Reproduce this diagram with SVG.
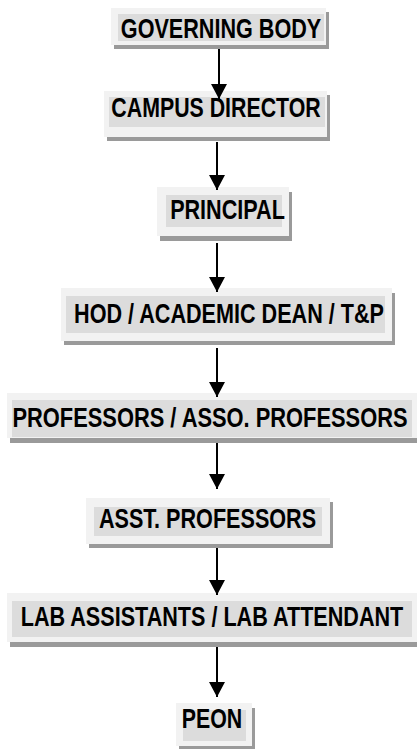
<svg xmlns="http://www.w3.org/2000/svg" width="417" height="749" viewBox="0 0 417 749">
<style>
.sh{fill:#9a9a9a}
.bg{fill:#f2f2f2}
.in{fill:#dcdcdc}
.t{font-family:"Liberation Sans",Arial,sans-serif;font-weight:bold;font-size:27px;fill:#000;text-anchor:middle}
.c{stroke:#000;stroke-width:2;fill:none}
</style>
<defs>
<marker id="ah" markerUnits="userSpaceOnUse" markerWidth="16" markerHeight="17" refX="15" refY="8" orient="auto">
<path d="M0,0 L15,8 L0,16 Z" fill="#000"/>
</marker>
</defs>
<rect width="417" height="749" fill="#fff"/>
<g id="n1">
<rect class="sh" x="114" y="12" width="215" height="37"/>
<rect class="bg" x="111" y="8" width="215" height="37"/>
<rect class="in" x="118" y="14" width="206" height="27"/>
<text class="t" transform="translate(221,38) scale(0.8,1)">GOVERNING BODY</text>
</g>
<g id="n2">
<rect class="sh" x="107" y="95" width="223" height="46"/>
<rect class="bg" x="104" y="91" width="223" height="46"/>
<rect class="in" x="109" y="97" width="216" height="30"/>
<text class="t" transform="translate(216,117) scale(0.79,1)">CAMPUS DIRECTOR</text>
</g>
<g id="n3">
<rect class="sh" x="160" y="192" width="132" height="49"/>
<rect class="bg" x="157" y="187" width="132" height="49"/>
<rect class="in" x="166" y="195" width="116" height="32"/>
<text class="t" transform="translate(227.5,219) scale(0.8,1)">PRINCIPAL</text>
</g>
<g id="n4">
<rect class="sh" x="64" y="293" width="331" height="52"/>
<rect class="bg" x="61" y="288" width="331" height="53"/>
<rect class="in" x="66" y="296" width="319" height="37"/>
<text class="t" transform="translate(229,323) scale(0.8,1)">HOD / ACADEMIC DEAN / T&amp;P</text>
</g>
<g id="n5">
<rect class="sh" x="10" y="398" width="410" height="45"/>
<rect class="bg" x="7" y="393" width="410" height="45"/>
<rect class="in" x="12" y="400" width="400" height="37"/>
<text class="t" transform="translate(210,427) scale(0.81,1)">PROFESSORS / ASSO. PROFESSORS</text>
</g>
<g id="n6">
<rect class="sh" x="89" y="502" width="244" height="46"/>
<rect class="bg" x="86" y="498" width="244" height="46"/>
<rect class="in" x="94" y="507" width="228" height="29"/>
<text class="t" transform="translate(207.5,528) scale(0.8,1)">ASST. PROFESSORS</text>
</g>
<g id="n7">
<rect class="sh" x="10" y="598" width="410" height="49"/>
<rect class="bg" x="7" y="593" width="410" height="49"/>
<rect class="in" x="12" y="601" width="400" height="36"/>
<text class="t" transform="translate(212,626) scale(0.8,1)">LAB ASSISTANTS / LAB ATTENDANT</text>
</g>
<g id="n8">
<rect class="sh" x="179" y="708" width="76" height="42"/>
<rect class="bg" x="176" y="703" width="76" height="43"/>
<rect class="in" x="183" y="710" width="63" height="31"/>
<text class="t" transform="translate(212,728) scale(0.79,1)">PEON</text>
</g>
<g id="connectors">
<line class="c" x1="219" y1="49" x2="219" y2="99" marker-end="url(#ah)"/>
<line class="c" x1="217" y1="142" x2="217" y2="190" marker-end="url(#ah)"/>
<line class="c" x1="217" y1="243" x2="217" y2="292" marker-end="url(#ah)"/>
<line class="c" x1="217" y1="348" x2="217" y2="397" marker-end="url(#ah)"/>
<line class="c" x1="217" y1="443" x2="217" y2="489" marker-end="url(#ah)"/>
<line class="c" x1="217" y1="548" x2="217" y2="595" marker-end="url(#ah)"/>
<line class="c" x1="217" y1="647" x2="217" y2="697" marker-end="url(#ah)"/>
</g>
</svg>
